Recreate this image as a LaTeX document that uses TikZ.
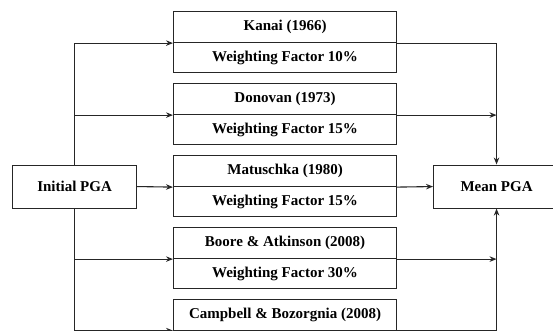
\documentclass[tikz,border=0pt]{standalone}
\usepackage{fontspec}
\setmainfont{Liberation Serif}
\usetikzlibrary{arrows.meta}
\begin{document}
\begin{tikzpicture}[x=1pt,y=-1pt,
  lc/.style={draw=black!85},
  half/.style={lc, line width=1.1pt, minimum width=223pt, inner sep=0pt, anchor=north west,
    font=\fontsize{15}{16}\selectfont\bfseries},
  tophalf/.style={half, minimum height=31pt},
  bothalf/.style={half, minimum height=30pt},
  endbox/.style={lc, line width=1.1pt, inner sep=0pt, anchor=north west,
    font=\fontsize{15}{16}\selectfont\bfseries},
  arr/.style={lc, line width=1.1pt, -{Stealth[length=7pt,width=5.5pt]}}]
\clip (0,0) rectangle (553,331);
\fill[white] (0,0) rectangle (553,331);
% end boxes
\node[endbox, minimum width=124pt, minimum height=43pt] (ini) at (12,164.5) {Initial PGA};
\node[endbox, minimum width=126pt, minimum height=43pt] (mean) at (433,164.5) {Mean PGA};
% method boxes
\node[tophalf] (kan1) at (173,11) {Kanai (1966)};
\node[bothalf] (kan2) at (173,42) {Weighting Factor 10\%};
\node[tophalf] (don1) at (173,83) {Donovan (1973)};
\node[bothalf] (don2) at (173,114) {Weighting Factor 15\%};
\node[tophalf] (mat1) at (173,155) {Matuschka (1980)};
\node[bothalf] (mat2) at (173,186) {Weighting Factor 15\%};
\node[tophalf] (boo1) at (173,227) {Boore \& Atkinson (2008)};
\node[bothalf] (boo2) at (173,258) {Weighting Factor 30\%};
\node[tophalf] (cam1) at (173,298.5) {Campbell \& Bozorgnia (2008)};
% left connectors
\draw[arr] (ini.north) |- (kan1.south west);
\draw[arr] (ini.north) |- (don1.south west);
\draw[arr] (ini.east) -- (mat1.south west);
\draw[arr] (ini.south) |- (boo1.south west);
\draw[arr] (ini.south) |- (cam1.south west);
% right connectors
\draw[arr] (kan1.south east) -| (mean.north);
\draw[arr] (don1.south east) -- (don1.south east -| mean.north);
\draw[arr] (mat1.south east) -- (mean.west);
\draw[arr] (boo1.south east) -- (boo1.south east -| mean.south);
\draw[arr] (cam1.south east) -| (mean.south);
\end{tikzpicture}
\end{document}
